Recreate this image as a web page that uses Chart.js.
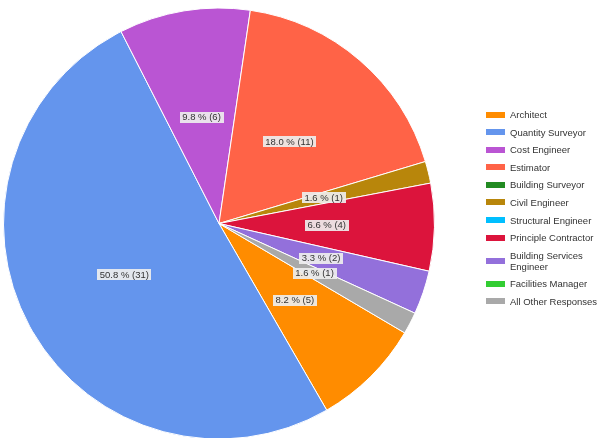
<!DOCTYPE html>
<html>
<head>
<meta charset="utf-8">
<script src="https://cdn.jsdelivr.net/npm/chart.js@4.4.1/dist/chart.umd.min.js"></script>
<style>
    body { margin: 0; overflow: hidden; background: #fff; font-family: "Liberation Sans", Arial, sans-serif; }
    #wrap { position: relative; width: 603px; height: 438px; overflow: hidden; }
    #pieChart { position: absolute; left: 0; top: 0; }
    #legend { position: absolute; left: 486px; top: 109px; font-size: 9.5px; color: #333; }
    .item { display: flex; align-items: center; margin-bottom: 6.6px; }
    .box { width: 19px; height: 6px; margin-right: 5px; flex: none; }
    .txt { max-width: 90px; line-height: 11px; }
</style>
</head>
<body>
<div id="wrap">
    <canvas id="pieChart" width="603" height="448"></canvas>
    <div id="legend"></div>
</div>
<script>
// Categorias y respuestas
var categories = ['Architect', 'Quantity Surveyor', 'Cost Engineer', 'Estimator', 'Building Surveyor',
    'Civil Engineer', 'Structural Engineer', 'Principle Contractor', 'Building Services Engineer',
    'Facilities Manager', 'All Other Responses'];
var counts = [5, 31, 6, 11, 0, 1, 0, 4, 2, 0, 1];
var colors = ['#FF8C00', '#6495ED', '#BA55D3', '#FF6347', '#228B22', '#B8860B',
    '#00BFFF', '#DC143C', '#9370DB', '#32CD32', '#A9A9A9'];

var total = counts.reduce((a, b) => a + b, 0);

// Etiquetas dentro de cada porcion
var sliceLabels = {
    id: 'sliceLabels',
    afterDatasetsDraw(chart) {
        var ctx = chart.ctx;
        var meta = chart.getDatasetMeta(0);
        ctx.save();
        ctx.font = '9.5px "Liberation Sans", Arial, sans-serif';
        ctx.textAlign = 'center';
        ctx.textBaseline = 'middle';
        meta.data.forEach((arc, i) => {
            var v = counts[i];
            if (!v) return;
            var pos = arc.tooltipPosition();
            var text = (v / total * 100).toFixed(1) + ' % (' + v + ')';
            var w = ctx.measureText(text).width + 5;
            ctx.fillStyle = 'rgba(238,238,238,0.92)';
            ctx.fillRect(Math.round(pos.x - w / 2), Math.round(pos.y - 5.5), Math.round(w), 11);
            ctx.fillStyle = '#333';
            ctx.fillText(text, pos.x, pos.y + 0.5);
        });
        ctx.restore();
    }
};

var ctx1 = document.getElementById('pieChart').getContext('2d');
var pieChart = new Chart(ctx1, {
    type: 'pie',
    data: {
        labels: categories,
        datasets: [{
            data: counts,
            backgroundColor: colors,
            borderColor: '#fff',
            borderWidth: 1
        }]
    },
    options: {
        responsive: false,
        animation: false,
        rotation: 120.5,
        layout: { padding: { left: 3, right: 168, top: 7.5, bottom: 8.5 } },
        plugins: {
            legend: { display: false },
            tooltip: { enabled: false }
        }
    },
    plugins: [sliceLabels]
});

// Leyenda a la derecha
var legend = document.getElementById('legend');
categories.forEach((name, i) => {
    var item = document.createElement('div');
    item.className = 'item';
    item.innerHTML = '<span class="box" style="background:' + colors[i] + '"></span><span class="txt">' + name + '</span>';
    legend.appendChild(item);
});
</script>
</body>
</html>
